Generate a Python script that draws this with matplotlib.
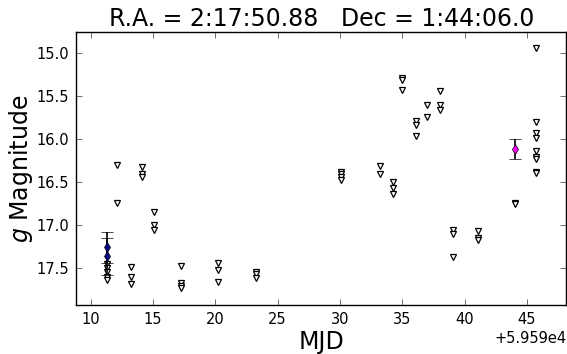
import matplotlib
matplotlib.use("Agg")
import matplotlib.pyplot as plt
from matplotlib.ticker import ScalarFormatter
import numpy as np

MJD0 = 59590.0

# Upper limits (triangles): MJD offsets and g magnitudes
lim_x = [11.28, 11.28, 11.28, 11.28, 11.28,
         12.08, 12.08,
         13.26, 13.26, 13.26,
         14.09, 14.09, 14.09,
         15.08, 15.08, 15.08,
         17.27, 17.27, 17.27, 17.27,
         20.23, 20.23, 20.23,
         23.23, 23.23, 23.23,
         30.05, 30.05, 30.05, 30.05,
         33.20, 33.20,
         34.22, 34.22, 34.22,
         35.00, 35.00, 35.00,
         36.08, 36.08, 36.08,
         37.00, 37.00,
         37.99, 37.99, 37.99,
         39.05, 39.05, 39.05,
         41.06, 41.06, 41.06,
         44.05, 44.05,
         45.71, 45.71, 45.71, 45.71, 45.71, 45.71, 45.71, 45.71, 45.71]
lim_y = [17.45, 17.50, 17.55, 17.60, 17.64,
         16.30, 16.75,
         17.49, 17.60, 17.68,
         16.33, 16.41, 16.44,
         16.85, 17.00, 17.06,
         17.48, 17.67, 17.71, 17.73,
         17.44, 17.52, 17.66,
         17.54, 17.57, 17.62,
         16.38, 16.41, 16.44, 16.48,
         16.32, 16.41,
         16.50, 16.57, 16.64,
         15.29, 15.32, 15.43,
         15.79, 15.84, 15.97,
         15.61, 15.75,
         15.45, 15.61, 15.67,
         17.06, 17.11, 17.37,
         17.07, 17.15, 17.17,
         16.74, 16.76,
         14.95, 15.80, 15.93, 15.99, 16.14, 16.21, 16.24, 16.38, 16.40]

# Detections
det1_x = [11.28, 11.28]
det1_y = [17.256, 17.365]
det1_err = [0.18, 0.21]

det2_x = [44.05]
det2_y = [16.12]
det2_err = [0.115]

title = "R.A. = 2:17:50.88   Dec = 1:44:06.0"

fig = plt.figure(figsize=(5.67, 3.54), dpi=100)
ax = fig.add_axes([0.134, 0.138, 0.865, 0.772])

ax.plot(MJD0 + np.array(lim_x), lim_y, linestyle='none', marker='v',
        markersize=4.0, markerfacecolor='white', markeredgecolor='black',
        markeredgewidth=0.9, zorder=3)

ax.errorbar(MJD0 + np.array(det1_x), det1_y, yerr=det1_err, fmt='d',
            color='#0b0b8a', markeredgecolor='black', markeredgewidth=0.5,
            markersize=5.5, ecolor='black', elinewidth=1.2, capsize=4,
            capthick=0.6, zorder=4)
ax.errorbar(MJD0 + np.array(det2_x), det2_y, yerr=det2_err, fmt='d',
            color='#ff00ff', markeredgecolor='black', markeredgewidth=0.5,
            markersize=5.5, ecolor='black', elinewidth=1.2, capsize=4,
            capthick=0.6, zorder=4)

ax.set_xlim(MJD0 + 8.82, MJD0 + 48.17)
ax.set_ylim(17.93, 14.76)
ax.set_xticks(MJD0 + np.arange(10, 46, 5))
ax.set_yticks(np.arange(15.0, 17.6, 0.5))
fmt = ScalarFormatter(useOffset=MJD0)
ax.xaxis.set_major_formatter(fmt)
ax.yaxis.set_major_formatter(matplotlib.ticker.FormatStrFormatter('%.1f'))

ax.tick_params(direction='in', top=True, right=True, length=4, width=0.6,
               color='#555555', labelsize=10.5, pad=5)
ax.xaxis.get_offset_text().set_fontsize(10.5)
for s in ax.spines.values():
    s.set_linewidth(1.0)

ax.set_title(title, fontsize=17, pad=4)
ax.set_xlabel("MJD", fontsize=17, labelpad=2)
ax.set_ylabel(r"$g$ Magnitude", fontsize=17, labelpad=1)

fig.savefig("out.png", dpi=100, facecolor='white')
